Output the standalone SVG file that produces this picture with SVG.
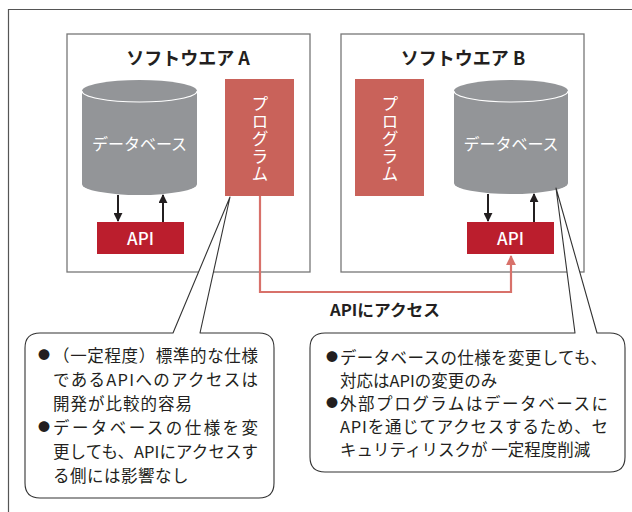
<svg xmlns="http://www.w3.org/2000/svg" width="632" height="512" viewBox="0 0 632 512">
<style>
.frame{fill:none;stroke:#555;stroke-width:1.2}
.box{fill:#fff;stroke:#777;stroke-width:1.3}
.title{font-family:"Noto Sans CJK JP","Noto Sans",sans-serif;font-weight:bold;font-size:18px;fill:#231f20;text-anchor:middle}
.db{fill:#939598}
.dbtop{fill:none;stroke:#fff;stroke-width:1.2}
.dbtxt{font-family:"Noto Sans CJK JP",sans-serif;font-size:16px;fill:#fff;text-anchor:middle}
.prog{fill:#C9625A}
.progtxt{font-family:"Noto Sans CJK JP",sans-serif;font-size:17px;fill:#fff;text-anchor:middle;writing-mode:vertical-rl}
.api{fill:#BB1E2D}
.apitxt{font-family:"Noto Sans CJK JP","Noto Sans",sans-serif;font-weight:500;font-size:17px;fill:#fff;text-anchor:middle}
.arr{stroke:#231f20;stroke-width:2;fill:none}
.red{stroke:#D8716A;stroke-width:2.2;fill:none}
.callout{fill:#fff;stroke:#333;stroke-width:1.1;stroke-linejoin:round}
.ct{font-family:"Noto Sans CJK JP",sans-serif;font-size:16.5px;fill:#231f20}
.bul{font-family:"Noto Sans CJK JP",sans-serif;font-size:12px;fill:#231f20}
.lbl{font-family:"Noto Sans CJK JP","Noto Sans",sans-serif;font-weight:bold;font-size:16px;fill:#231f20;text-anchor:middle}
</style>
<defs>
<marker id="ah" viewBox="0 0 10 10" refX="9" refY="5" markerWidth="4.5" markerHeight="4.5" orient="auto" markerUnits="strokeWidth">
<path d="M0,0 L10,5 L0,10 Z" fill="#231f20"/>
</marker>
<marker id="ahr" viewBox="0 0 10 10" refX="9" refY="5" markerWidth="4.5" markerHeight="4.5" orient="auto" markerUnits="strokeWidth">
<path d="M0,0 L10,5 L0,10 Z" fill="#D8716A"/>
</marker>
</defs>
<rect width="632" height="512" fill="#fff"/>
<path class="frame" d="M8.5,540 V9.5 H660"/>

<g id="softwareA">
<rect class="box" x="67" y="34" width="243" height="238"/>
<text class="title" x="188" y="65">ソフトウエア A</text>
</g>
<g id="softwareB">
<rect class="box" x="341" y="34" width="243" height="238"/>
<text class="title" x="463" y="65">ソフトウエア B</text>
</g>

<g id="dbA">
<path class="db" d="M82,91 A57.5,11 0 0 1 197,91 V184 A57.5,11 0 0 1 82,184 Z"/>
<path class="dbtop" d="M82,91 A57.5,11 0 0 0 197,91"/>
<text class="dbtxt" x="139.5" y="150">データベース</text>
</g>
<g id="progA">
<rect class="prog" x="225" y="79" width="69" height="117"/>
<text class="progtxt" x="260" y="139" letter-spacing="0.5">プログラム</text>
</g>
<g id="apiA">
<rect class="api" x="97" y="222" width="87" height="32"/>
<text class="apitxt" x="140.5" y="244.5">API</text>
</g>

<g id="progB">
<rect class="prog" x="355" y="79" width="69" height="117"/>
<text class="progtxt" x="390" y="139" letter-spacing="0.5">プログラム</text>
</g>
<g id="dbB">
<path class="db" d="M454,91 A57,11 0 0 1 568,91 V183 A57,11 0 0 1 454,183 Z"/>
<path class="dbtop" d="M454,91 A57,11 0 0 0 568,91"/>
<text class="dbtxt" x="511" y="150">データベース</text>
</g>
<g id="apiB">
<rect class="api" x="467" y="222" width="87" height="32"/>
<text class="apitxt" x="510.5" y="244.5">API</text>
</g>

<g id="connectors">
<line class="arr" x1="118" y1="195" x2="118" y2="221" marker-end="url(#ah)"/>
<line class="arr" x1="163" y1="222" x2="163" y2="195" marker-end="url(#ah)"/>
<line class="arr" x1="488" y1="194" x2="488" y2="221" marker-end="url(#ah)"/>
<line class="arr" x1="534" y1="222" x2="534" y2="194" marker-end="url(#ah)"/>
<path class="red" d="M260,196 V292 H511 V256" marker-end="url(#ahr)"/>
<text class="lbl" x="385" y="316" textLength="110" lengthAdjust="spacingAndGlyphs">APIにアクセス</text>
</g>

<g id="calloutA">
<path class="callout" d="M200,333 H259 Q274,333 274,348 V483 Q274,498 259,498 H40 Q25,498 25,483 V348 Q25,333 40,333 H173 L230,197 Z"/>
<text class="bul" x="38" y="360">●</text>
<text class="ct" x="53" y="362" textLength="205" lengthAdjust="spacing">（一定程度）標準的な仕様</text>
<text class="ct" x="53" y="386" textLength="205" lengthAdjust="spacing">であるAPIへのアクセスは</text>
<text class="ct" x="53" y="410" letter-spacing="1">開発が比較的容易</text>
<text class="bul" x="38" y="432">●</text>
<text class="ct" x="53" y="434" textLength="205" lengthAdjust="spacing">データベースの仕様を変</text>
<text class="ct" x="53" y="458" textLength="205" lengthAdjust="spacing">更しても、APIにアクセスす</text>
<text class="ct" x="53" y="482" letter-spacing="0.5">る側には影響なし</text>
</g>

<g id="calloutB">
<path class="callout" d="M597,333 H610 Q625,333 625,348 V457 Q625,472 610,472 H325 Q310,472 310,457 V348 Q310,333 325,333 H575 L556,188 Z"/>
<text class="bul" x="326" y="362">●</text>
<text class="ct" x="340" y="364" textLength="267" lengthAdjust="spacing">データベースの仕様を変更しても、</text>
<text class="ct" x="340" y="387">対応はAPIの変更のみ</text>
<text class="bul" x="326" y="408">●</text>
<text class="ct" x="340" y="410" textLength="268" lengthAdjust="spacing">外部プログラムはデータベースに</text>
<text class="ct" x="340" y="433" textLength="268" lengthAdjust="spacing">APIを通じてアクセスするため、セ</text>
<text class="ct" x="340" y="456">キュリティリスクが 一定程度削減</text>
</g>
</svg>
